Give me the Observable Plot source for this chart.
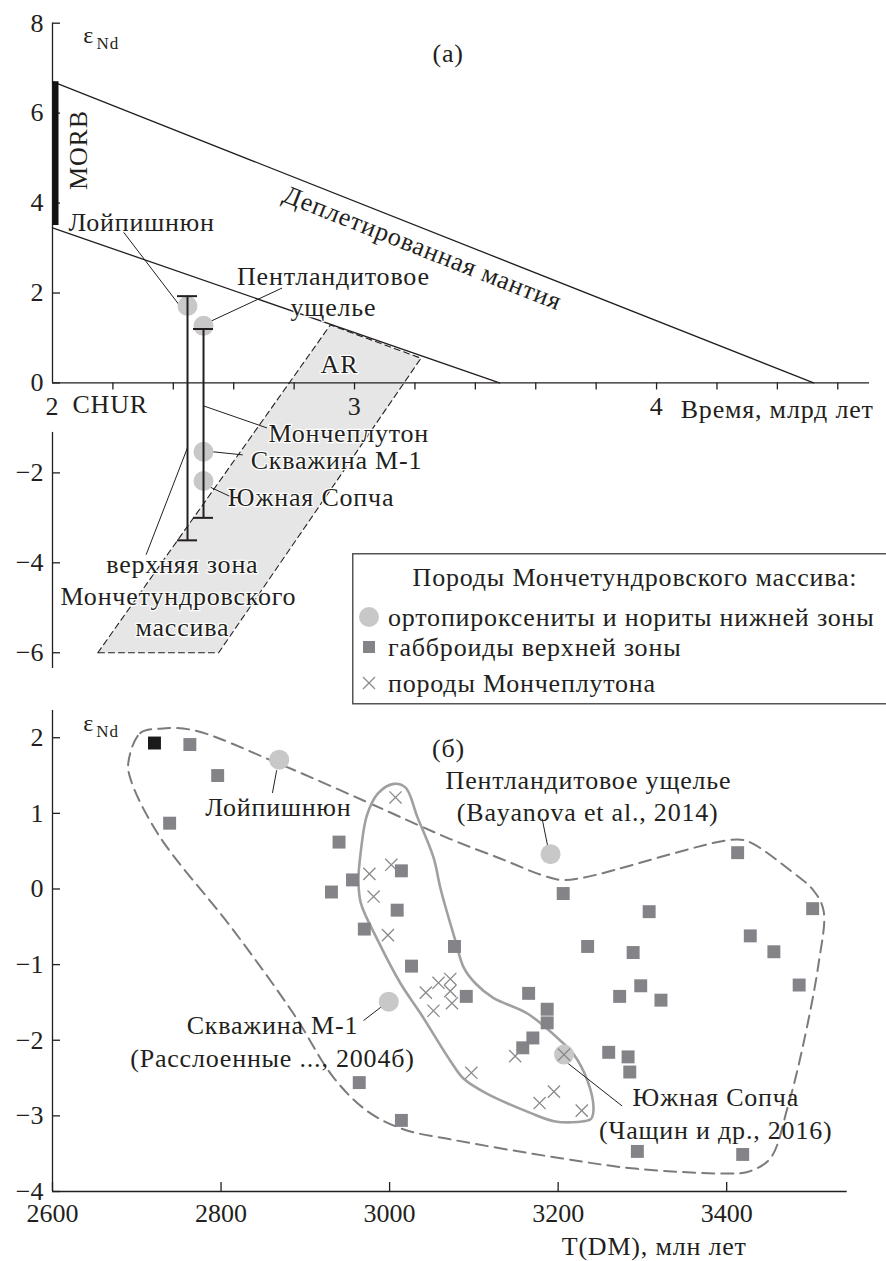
<!DOCTYPE html>
<html><head><meta charset="utf-8">
<script src="https://cdn.jsdelivr.net/npm/d3@7"></script>
<script src="https://cdn.jsdelivr.net/npm/@observablehq/plot@0.6"></script>
<style>
body{margin:0;background:#fff;overflow:hidden;font-family:"Liberation Serif","Times New Roman",serif;color:#231f20}
#wrap{position:relative;width:886px;height:1261px;overflow:hidden}
#a{position:absolute;left:0;top:0}
#b{position:absolute;left:0;top:705px}
#legend{position:absolute;left:352px;top:553px}
</style></head><body>
<div id="wrap"><div id="a"></div><div id="b"></div><div id="legend"></div></div>
<script>
const FONT = "Liberation Serif, Times New Roman, serif";
const INK = "#231f20";
const FS = 26;
const LS = "0.8px";

// ================= Panel (a) data =================
const aYTicks = [-6, -4, -2, 0, 2, 4, 6, 8];
const aXTickLabels = [2, 3, 4];
const aXMinorTicks = [2.2, 2.4, 2.6, 2.8, 3.0, 3.2, 3.4, 3.6, 3.8, 4.0, 4.2, 4.4, 4.6];
const aYAxisSegments = [{y1: 0, y2: 8}, {y1: -6.35, y2: -1.1}];
const aXAxisSpan = [{x1: 2, x2: 4.705}];
const depletedMantle = [{t: 2, e: 6.7}, {t: 4.52, e: 0}];
const churLower = [{t: 2, e: 3.45}, {t: 3.48, e: 0}];
const morbRange = [{t: 2, e1: 3.5, e2: 6.7}];
const arZone = [{t: 2.15, e: -6}, {t: 2.92, e: 1.29}, {t: 3.22, e: 0.55}, {t: 2.55, e: -6}];
const errorBars = [{t: 2.447, lo: -3.5, hi: 1.93}, {t: 2.5, lo: -3.0, hi: 1.2}];
const aSamples = [
  {name: "Лойпишнюн", t: 2.447, e: 1.71},
  {name: "Пентландитовое ущелье", t: 2.5, e: 1.27},
  {name: "Скважина М-1", t: 2.5, e: -1.53},
  {name: "Южная Сопча", t: 2.5, e: -2.18}
];
const aLabelsStart = [
  {text: "Лойпишнюн", t: 2.053, e: 3.56},
  {text: "CHUR", t: 2.066, e: -0.49},
  {text: "Мончеплутон", t: 2.715, e: -1.13},
  {text: "Скважина М-1", t: 2.656, e: -1.73},
  {text: "Южная Сопча", t: 2.58, e: -2.56},
  {text: "Время, млрд лет", t: 4.08, e: -0.6}
];
const aLabelsMiddle = [
  {text: "Пентландитовое", t: 2.93, e: 2.36},
  {text: "ущелье", t: 2.93, e: 1.67},
  {text: "AR", t: 2.95, e: 0.4},
  {text: "верхняя зона", t: 2.43, e: -4.04},
  {text: "Мончетундровского", t: 2.417, e: -4.76},
  {text: "массива", t: 2.43, e: -5.44},
  {text: "(а)", t: 3.31, e: 7.33}
];
const aLeaders = [
  {x1: 2.23, y1: 3.4, x2: 2.42, y2: 1.73},
  {x1: 2.76, y1: 2.11, x2: 2.52, y2: 1.36},
  {x1: 2.5, y1: -0.51, x2: 2.71, y2: -1.0},
  {x1: 2.53, y1: -1.53, x2: 2.63, y2: -1.6},
  {x1: 2.52, y1: -2.31, x2: 2.59, y2: -2.53},
  {x1: 2.447, y1: -1.44, x2: 2.31, y2: -3.82}
];
const mantleLabel = [{text: "Деплетированная мантия", t: 3.225, e: 3.0}];
const morbLabel = [{text: "MORB", t: 2.086, e: 5.18}];
const aEps = [{t: 2.12, e: 7.73}];
const aNd = [{t: 2.146, e: 7.55}];

// ================= Panel (б) data =================
const bXTicks = [2600, 2800, 3000, 3200, 3400];
const bYTicks = [-4, -3, -2, -1, 0, 1, 2];
const gabbroBlack = [{t: 2721, e: 1.93}];
const gabbro = [
  [2763, 1.91], [2796, 1.50], [2739, 0.87], [2940, 0.62], [2956, 0.12], [2931, -0.04],
  [3014, 0.24], [3009, -0.28], [2970, -0.53], [3026, -1.02], [3077, -0.76], [3091, -1.42],
  [2964, -2.56], [3014, -3.06], [3165, -1.38], [3187, -1.59], [3187, -1.77], [3170, -1.97],
  [3158, -2.10], [3206, -0.06], [3413, 0.48], [3308, -0.30], [3502, -0.26], [3235, -0.76],
  [3289, -0.84], [3428, -0.62], [3456, -0.83], [3298, -1.28], [3273, -1.42], [3322, -1.47],
  [3486, -1.27], [3260, -2.16], [3283, -2.22], [3285, -2.42], [3294, -3.47], [3419, -3.51]
];
const moncheCrosses = [
  [3007, 1.21], [2976, 0.20], [3002, 0.32], [2981, -0.10], [2998, -0.61],
  [3043, -1.37], [3058, -1.24], [3072, -1.19], [3072, -1.35], [3074, -1.51], [3052, -1.61],
  [3149, -2.21], [3207, -2.19], [3097, -2.43], [3178, -2.83], [3195, -2.68], [3228, -2.93]
];
const bSamples = [
  {name: "Лойпишнюн", t: 2869, e: 1.71},
  {name: "Пентландитовое ущелье", t: 3191, e: 0.46},
  {name: "Скважина М-1", t: 2999, e: -1.49},
  {name: "Южная Сопча", t: 3207, e: -2.19}
];
const outerHull = [
  [2690, 1.67], [2704, 2.06], [2728, 2.12], [2767, 2.10], [2868, 1.66], [2977, 1.13],
  [3072, 0.66], [3132, 0.40], [3179, 0.19], [3203, 0.12], [3230, 0.15], [3405, 0.65],
  [3425, 0.63], [3476, 0.24], [3503, -0.02], [3515, -0.29], [3509, -0.99], [3490, -2.10],
  [3472, -2.90], [3452, -3.56], [3428, -3.73], [3413, -3.76], [3294, -3.70], [3203, -3.56],
  [3072, -3.31], [3017, -3.18], [2974, -2.94], [2934, -2.50], [2886, -1.65], [2815, -0.55],
  [2725, 0.73], [2693, 1.44]
];
const innerHull = [
  [3005, 1.39], [3019, 1.34], [3033, 0.95], [3052, 0.42], [3061, -0.02], [3078, -0.68],
  [3088, -1.04], [3102, -1.25], [3123, -1.44], [3164, -1.65], [3207, -2.05], [3218, -2.18],
  [3235, -2.54], [3242, -2.90], [3239, -3.04], [3223, -3.08], [3195, -3.07], [3167, -2.96],
  [3116, -2.71], [3088, -2.51], [3072, -2.27], [3037, -1.65], [3013, -1.25], [2986, -0.68],
  [2966, -0.19], [2963, 0.11], [2966, 0.51], [2973, 0.97], [2986, 1.26]
];
const bLabels = [
  {text: "Лойпишнюн", t: 2868, e: 1.07},
  {text: "Пентландитовое ущелье", t: 3236, e: 1.43},
  {text: "(Bayanova et al., 2014)", t: 3235, e: 1.01},
  {text: "Скважина М-1", t: 2861, e: -1.81},
  {text: "(Расслоенные ..., 2004б)", t: 2861, e: -2.25},
  {text: "Южная Сопча", t: 3387, e: -2.76},
  {text: "(Чащин и др., 2016)", t: 3387, e: -3.2},
  {text: "(б)", t: 3070, e: 1.85}
];
const bLeaders = [
  {x1: 2866, y1: 1.57, x2: 2861, y2: 1.27},
  {x1: 3181, y1: 0.93, x2: 3189, y2: 0.49},
  {x1: 2969, y1: -1.74, x2: 2990, y2: -1.56},
  {x1: 3211, y1: -2.30, x2: 3276, y2: -2.87}
];
const bAxisTitle = [{text: "T(DM), млн лет", t: 3314, e: -4}];
const bEps = [{t: 2643, e: 2.19}];
const bNd = [{t: 2652, e: 2.08}];

const minusFmt = d => d < 0 ? "\u2212" + (-d) : String(d);

// ================= Panel (a) =================
const aWidth = 886, aHeight = 705;
const aMargin = {top: 22.7, right: 17, bottom: 37, left: 52};
const aXDomain = [2, 4.705], aYDomain = [-6.35, 8];
const pxPerX = (aWidth - aMargin.left - aMargin.right) / (aXDomain[1] - aXDomain[0]);
const pxPerY = (aHeight - aMargin.top - aMargin.bottom) / (aYDomain[1] - aYDomain[0]);
const mantleAngle = Math.atan2((depletedMantle[0].e - depletedMantle[1].e) * pxPerY,
                               (depletedMantle[1].t - depletedMantle[0].t) * pxPerX) * 180 / Math.PI;

const txt = {fontFamily: FONT, fontSize: FS, fill: INK};

const plotA = Plot.plot({
  width: aWidth, height: aHeight,
  marginTop: aMargin.top, marginRight: aMargin.right, marginBottom: aMargin.bottom, marginLeft: aMargin.left,
  style: {fontFamily: FONT, background: "transparent", color: INK},
  x: {domain: aXDomain, axis: null},
  y: {domain: aYDomain, axis: null},
  marks: [
    Plot.line(arZone, {x: "t", y: "e", curve: "linear-closed", fill: "#e6e6e6", stroke: INK, strokeWidth: 1.1, strokeDasharray: "6,4"}),
    Plot.ruleX(aYAxisSegments, {x: () => aXDomain[0], y1: "y1", y2: "y2", stroke: INK, strokeWidth: 1.3}),
    Plot.ruleY(aYTicks, {y: d => d, x1: () => aXDomain[0], x2: () => aXDomain[0], insetRight: -8, stroke: INK, strokeWidth: 1.3}),
    Plot.axisY(aYTicks, {tickSize: 0, tickPadding: 9, fontSize: FS, fontFamily: FONT, label: null, tickFormat: minusFmt}),
    Plot.ruleY(aXAxisSpan, {y: () => 0, x1: "x1", x2: "x2", stroke: INK, strokeWidth: 1.3}),
    Plot.ruleX(aXMinorTicks, {x: d => d, y1: () => 0, y2: () => 0, insetBottom: -7, stroke: INK, strokeWidth: 1.3}),
    Plot.text(aXTickLabels, {x: d => d, y: () => 0, dy: 24, text: d => String(d), ...txt}),
    Plot.line(depletedMantle, {x: "t", y: "e", stroke: INK, strokeWidth: 1.3}),
    Plot.line(churLower, {x: "t", y: "e", stroke: INK, strokeWidth: 1.3}),
    Plot.ruleX(morbRange, {x: "t", y1: "e1", y2: "e2", stroke: "#111", strokeWidth: 6, dx: 3}),
    Plot.link(aLeaders, {x1: "x1", y1: "y1", x2: "x2", y2: "y2", stroke: INK, strokeWidth: 1}),
    Plot.dot(aSamples, {x: "t", y: "e", r: 10, fill: "#c8c8c8", stroke: null}),
    Plot.ruleX(errorBars, {x: "t", y1: "lo", y2: "hi", stroke: INK, strokeWidth: 2}),
    Plot.ruleY(errorBars, {y: "lo", x1: "t", x2: "t", insetLeft: -10, insetRight: -10, stroke: INK, strokeWidth: 2}),
    Plot.ruleY(errorBars, {y: "hi", x1: "t", x2: "t", insetLeft: -10, insetRight: -10, stroke: INK, strokeWidth: 2}),
    Plot.text(aLabelsStart, {x: "t", y: "e", text: "text", textAnchor: "start", ...txt, stroke: "white", strokeWidth: 2.5}),
    Plot.text(aLabelsMiddle, {x: "t", y: "e", text: "text", textAnchor: "middle", ...txt, stroke: "white", strokeWidth: 2.5}),
    Plot.text(mantleLabel, {x: "t", y: "e", text: "text", rotate: mantleAngle, ...txt}),
    Plot.text(morbLabel, {x: "t", y: "e", text: "text", rotate: -90, ...txt}),
    Plot.text(aEps, {x: "t", y: "e", text: () => "ε", ...txt, fontSize: 24}),
    Plot.text(aNd, {x: "t", y: "e", text: () => "Nd", textAnchor: "start", ...txt, fontSize: 17})
  ]
});
d3.select(plotA).selectAll('g[aria-label="text"]').style("letter-spacing", LS);
document.getElementById("a").appendChild(plotA);

// ================= Panel (б) =================
const sq = gabbro.map(([t, e]) => ({t, e}));
const cr = moncheCrosses.map(([t, e]) => ({t, e}));
const oh = outerHull.map(([t, e]) => ({t, e}));
const ih = innerHull.map(([t, e]) => ({t, e}));
const bXDomain = [2600, 3543], bYDomain = [-4, 2.36];

const plotB = Plot.plot({
  width: 886, height: 556,
  marginTop: 5, marginRight: 39.3, marginBottom: 70, marginLeft: 52,
  style: {fontFamily: FONT, background: "transparent", color: INK},
  x: {domain: bXDomain, axis: null},
  y: {domain: bYDomain, axis: null},
  marks: [
    Plot.ruleX([bXDomain[0]], {y1: () => bYDomain[0], y2: () => bYDomain[1], stroke: INK, strokeWidth: 1.3}),
    Plot.ruleY([bYDomain[0]], {x1: () => bXDomain[0], x2: () => bXDomain[1], stroke: INK, strokeWidth: 1.3}),
    Plot.ruleY(bYTicks, {y: d => d, x1: () => bXDomain[0], x2: () => bXDomain[0], insetRight: -8, stroke: INK, strokeWidth: 1.3}),
    Plot.ruleX(bXTicks, {x: d => d, y1: () => bYDomain[0], y2: () => bYDomain[0], insetTop: -9, stroke: INK, strokeWidth: 1.3}),
    Plot.axisY(bYTicks, {tickSize: 0, tickPadding: 9, fontSize: FS, fontFamily: FONT, label: null, tickFormat: minusFmt}),
    Plot.axisX(bXTicks, {tickSize: 0, tickPadding: 12, fontSize: FS, fontFamily: FONT, label: null, tickFormat: d => String(d)}),
    Plot.text(bAxisTitle, {x: "t", y: "e", dy: 55, text: "text", ...txt}),
    Plot.line(oh, {x: "t", y: "e", curve: "catmull-rom-closed", stroke: "#7b7b7b", strokeWidth: 2, strokeDasharray: "12,7"}),
    Plot.line(ih, {x: "t", y: "e", curve: "catmull-rom-closed", stroke: "#a0a0a0", strokeWidth: 2.6}),
    Plot.link(bLeaders, {x1: "x1", y1: "y1", x2: "x2", y2: "y2", stroke: INK, strokeWidth: 1}),
    Plot.dot(bSamples, {x: "t", y: "e", r: 10, fill: "#c8c8c8", stroke: null}),
    Plot.dot(sq, {x: "t", y: "e", symbol: "square", r: 7.3, fill: "#838388", stroke: null}),
    Plot.dot(gabbroBlack, {x: "t", y: "e", symbol: "square", r: 7.3, fill: "#1a1a1a", stroke: null}),
    Plot.dot(cr, {x: "t", y: "e", symbol: "times", r: 5.6, stroke: "#8a8a8a", strokeWidth: 1.3}),
    Plot.text(bLabels, {x: "t", y: "e", text: "text", ...txt}),
    Plot.text(bEps, {x: "t", y: "e", text: () => "ε", ...txt, fontSize: 24}),
    Plot.text(bNd, {x: "t", y: "e", text: () => "Nd", textAnchor: "start", ...txt, fontSize: 17})
  ]
});
d3.select(plotB).selectAll('g[aria-label="text"]').style("letter-spacing", LS);
document.getElementById("b").appendChild(plotB);

// ================= Legend =================
const legendTitle = "Породы Мончетундровского массива:";
const legendItems = [
  {label: "ортопироксениты и нориты нижней зоны", symbol: "circle"},
  {label: "габброиды верхней зоны", symbol: "square"},
  {label: "породы Мончеплутона", symbol: "times"}
];
const legendRowY = [64, 94, 130];
const lg = d3.select("#legend").append("svg")
  .attr("width", 566).attr("height", 152)
  .style("font-family", FONT).style("font-size", FS + "px").style("letter-spacing", LS);
lg.append("rect").attr("x", 0.75).attr("y", 0.75).attr("width", 564).attr("height", 150)
  .attr("fill", "white").attr("stroke", "#555").attr("stroke-width", 1.5);
lg.append("text").attr("x", 283).attr("y", 24).attr("dy", "0.35em").attr("text-anchor", "middle")
  .attr("fill", INK).text(legendTitle);
legendItems.forEach((it, i) => {
  const g = lg.append("g").attr("transform", `translate(17,${legendRowY[i]})`);
  if (it.symbol === "circle") g.append("circle").attr("r", 10).attr("fill", "#c8c8c8");
  else if (it.symbol === "square") g.append("rect").attr("x", -6).attr("y", -6).attr("width", 12).attr("height", 12).attr("fill", "#838388");
  else g.append("path").attr("d", "M-6,-6L6,6M-6,6L6,-6").attr("stroke", "#8a8a8a").attr("stroke-width", 1.3).attr("fill", "none");
  lg.append("text").attr("x", 36).attr("y", legendRowY[i]).attr("dy", "0.35em").attr("fill", INK).text(it.label);
});
</script>
</body></html>
